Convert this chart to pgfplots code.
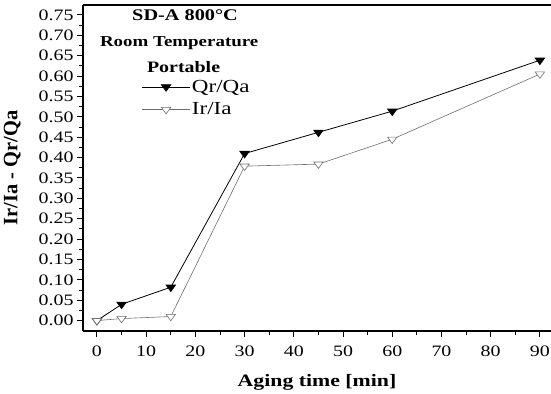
\documentclass[border=0pt]{standalone}
\usepackage{pgfplots}
\pgfplotsset{compat=1.18}
\usepackage{fontspec}
\setmainfont{Liberation Serif}[FakeStretch=1.25]
\newfontfamily\ylabfont{Liberation Serif}
\definecolor{irgray}{RGB}{110,110,110}
\begin{document}
\begin{tikzpicture}
\path[use as bounding box] (-83bp,-63bp) rectangle (468bp,331bp);
\begin{axis}[
  at={(0,0)}, anchor=south west,
  scale only axis,
  width=468bp, height=326bp,
  xmin=-2.84, xmax=92.26,
  ymin=-0.0255, ymax=0.7745,
  axis x line*=box, axis y line*=left,
  xtick pos=left, ytick pos=left,
  xtick={0,10,...,90},
  ytick={0,0.05,...,0.751},
  minor x tick num=1, minor y tick num=1,
  tick align=outside,
  major tick length=6bp, minor tick length=3.5bp,
  every tick/.style={black, line width=1pt},
  axis line style={line width=1.3pt},
  /pgf/number format/assume math mode=true,
  yticklabel style={/pgf/number format/.cd, fixed, fixed zerofill, precision=2},
  ticklabel style={font=\fontsize{16}{18}\selectfont},
  xticklabel style={yshift=-5bp},
  xlabel={\textbf{Aging time [min]}},
  ylabel={\ylabfont\bfseries Ir/Ia - Qr/Qa},
  xlabel style={font=\fontsize{17.5}{19}\selectfont, yshift=-11bp},
  ylabel style={font=\fontsize{20.5}{22}\selectfont, yshift=11bp},
  legend cell align=left,
  legend style={draw=none, fill=none, at={(rel axis cs:0.125,0.775)}, anchor=north west,
    font=\fontsize{18.5}{20}\selectfont, row sep=6bp, inner sep=0pt,
    nodes={inner sep=1.5bp}},
  legend image code/.code={\draw[mark repeat=2,mark phase=2] plot coordinates {(0bp,0bp)(24bp,0bp)(48bp,0bp)};},
  clip=false,
]
\addplot[black, line width=0.8pt, mark=triangle*, mark size=4.3bp,
  mark options={rotate=180, xscale=1.25, fill=black, solid}]
  coordinates {(0,0) (5,0.040) (15,0.082) (30,0.410) (45,0.462) (60,0.514) (90,0.639)};
\addlegendentry{Qr/Qa}
\addplot[irgray, line width=0.6pt, mark=triangle*, mark size=4.3bp,
  mark options={rotate=180, xscale=1.25, fill=white, draw=irgray, solid}]
  coordinates {(0,0) (5,0.005) (15,0.010) (30,0.379) (45,0.384) (60,0.445) (90,0.605)};
\addlegendentry{Ir/Ia}
\node[font=\bfseries\fontsize{16.3}{18}\selectfont] at (axis cs:17.9,0.750) {SD-A 800°C};
\node[font=\bfseries\fontsize{15.2}{17}\selectfont] at (axis cs:16.7,0.682) {Room Temperature};
\node[font=\bfseries\fontsize{16}{18}\selectfont] at (axis cs:17.6,0.622) {Portable};
\end{axis}
\end{tikzpicture}
\end{document}
